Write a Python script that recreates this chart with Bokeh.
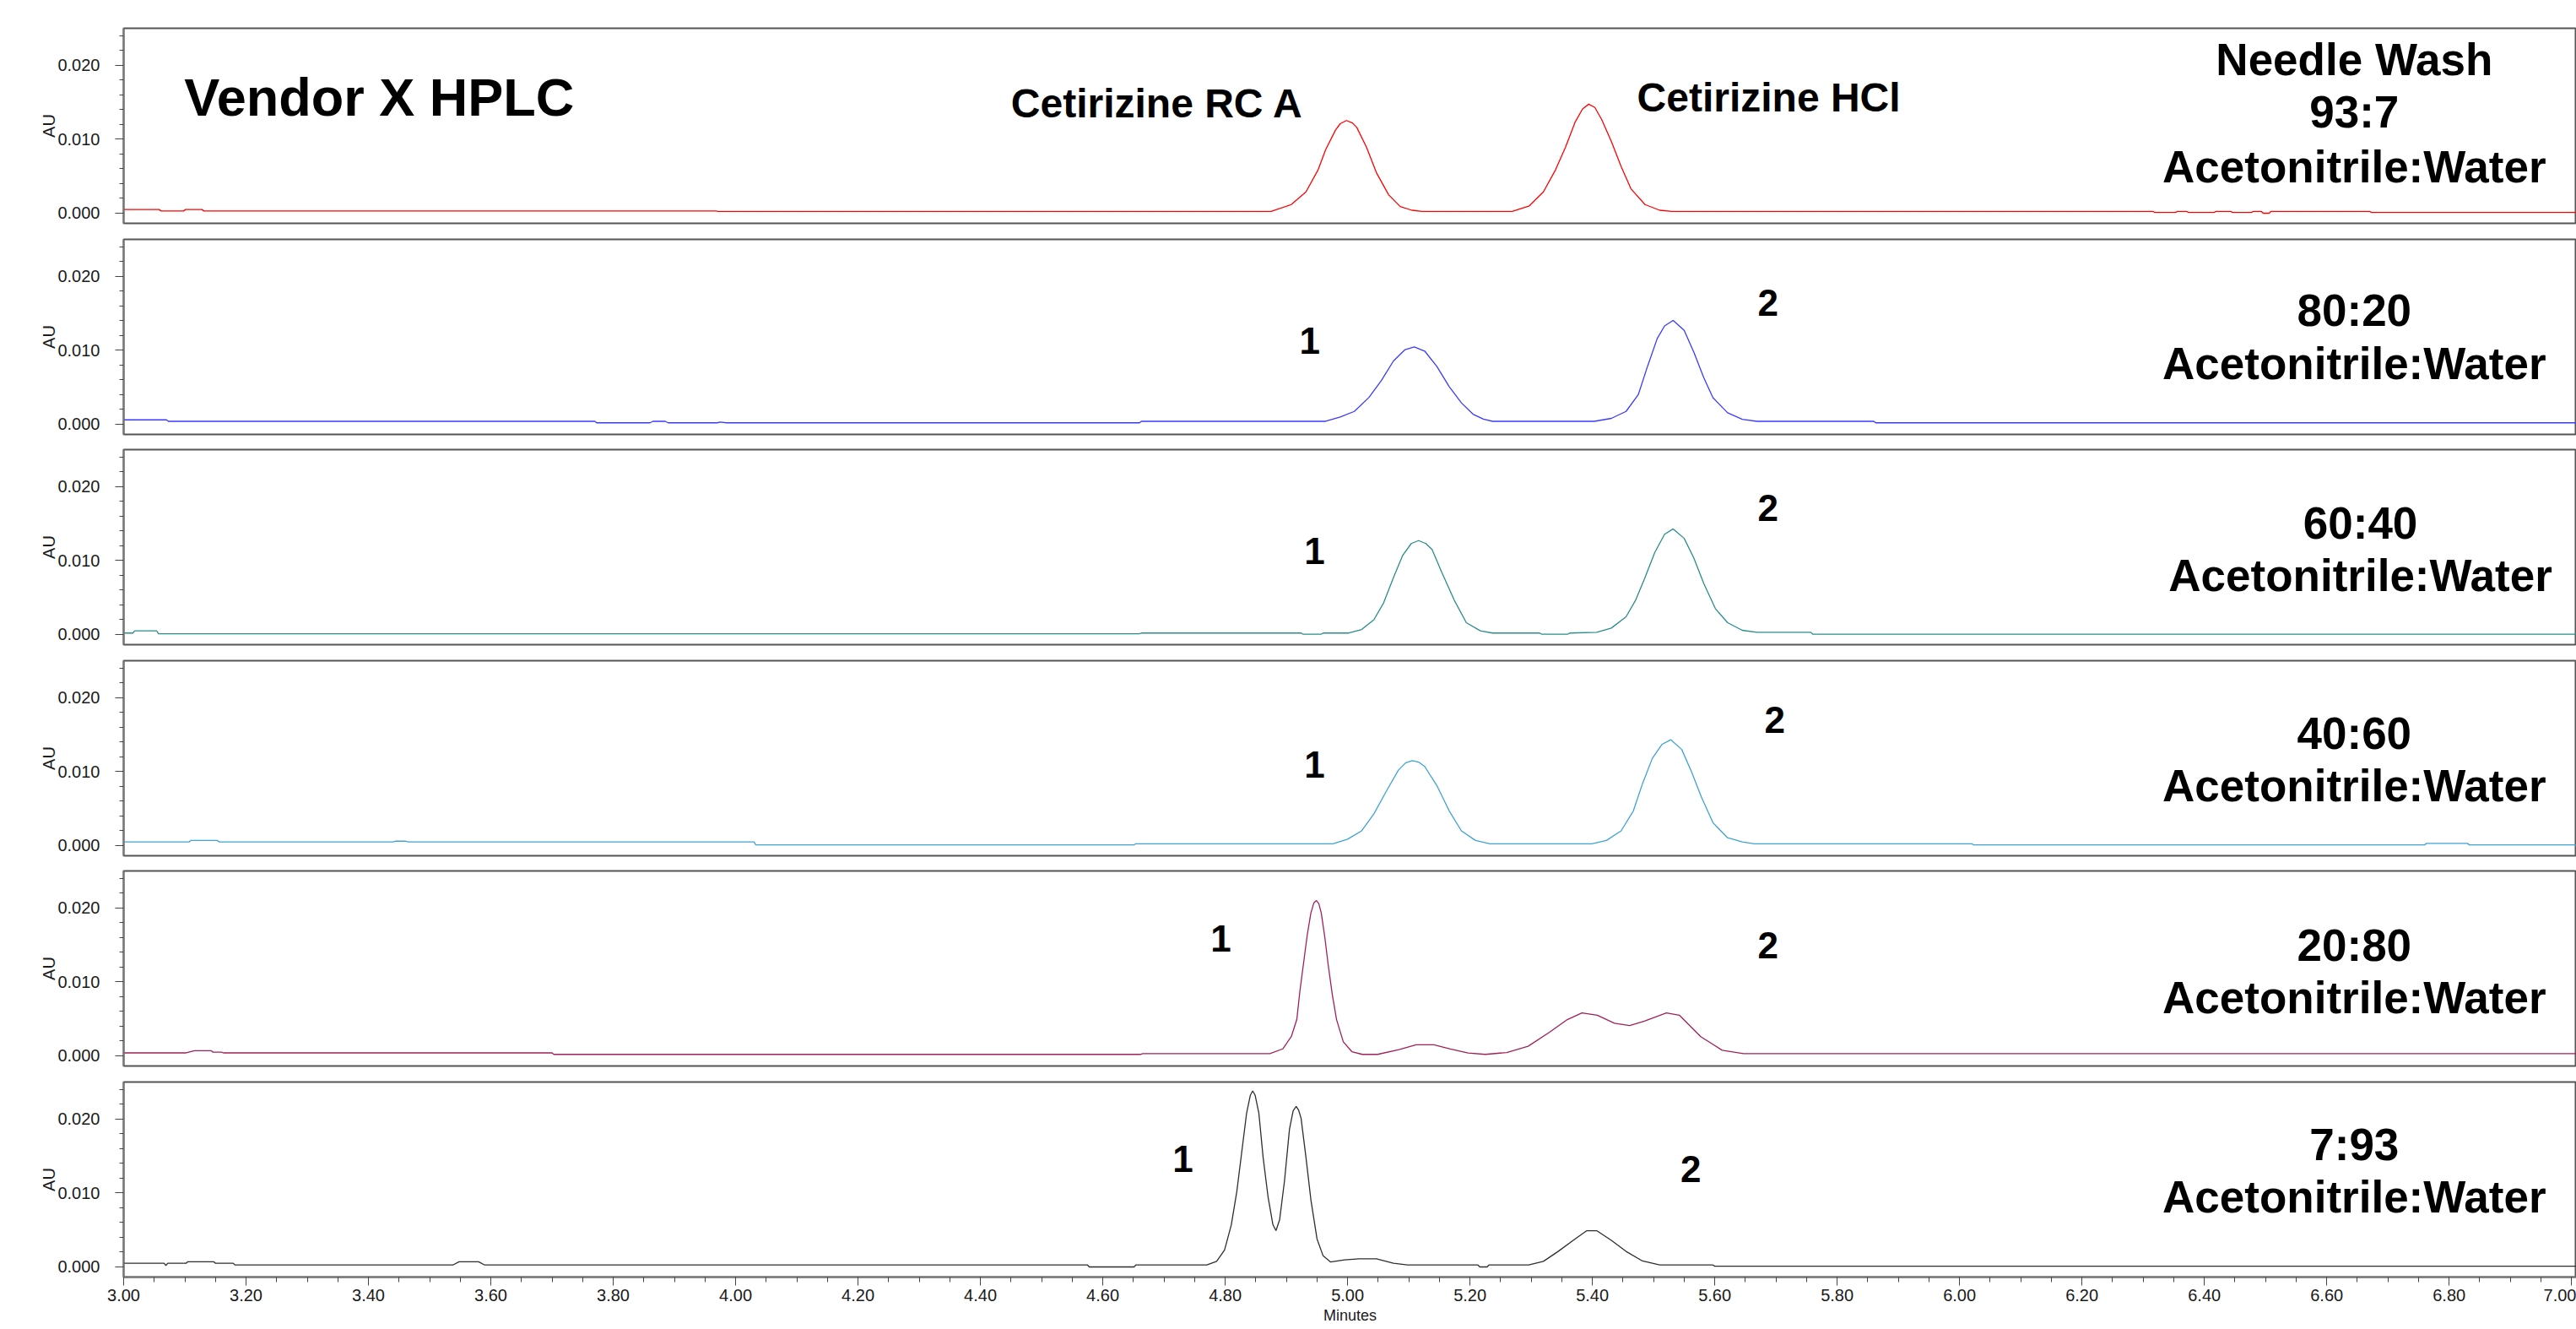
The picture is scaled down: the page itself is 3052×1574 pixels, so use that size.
from bokeh.plotting import figure
from bokeh.layouts import column
from bokeh.models import Range1d, FixedTicker, PrintfTickFormatter, Label
from bokeh.embed import file_html
from bokeh.resources import INLINE

# ---------------- data (time in minutes, AU) ----------------
t_nw = [3.000, 3.058, 3.061, 3.098, 3.101, 3.128, 3.131, 3.968, 3.971, 4.875, 4.908, 4.932, 4.952, 4.964,
        4.980, 4.988, 4.998, 5.008, 5.015, 5.031, 5.047, 5.067, 5.086, 5.105, 5.122, 5.269, 5.297, 5.320,
        5.340, 5.356, 5.372, 5.384, 5.394, 5.404, 5.415, 5.431, 5.447, 5.463, 5.486, 5.510, 5.530, 6.316,
        6.319, 6.353, 6.356, 6.371, 6.374, 6.416, 6.419, 6.443, 6.446, 6.477, 6.480, 6.493, 6.496, 6.506,
        6.509, 6.670, 6.673, 7.008]
au_nw = [0.0005, 0.0005, 0.0003, 0.0003, 0.0005, 0.0005, 0.0003, 0.0003, 0.00025, 0.00025, 0.00117, 0.00288,
         0.0059, 0.00856, 0.0112, 0.0121, 0.01253, 0.0122, 0.0116, 0.0089, 0.0055, 0.0025, 0.0009, 0.0004,
         0.00025, 0.00025, 0.00099, 0.00288, 0.0059, 0.0089, 0.01235, 0.0141, 0.01474, 0.0143, 0.0127, 0.0097,
         0.0063, 0.0033, 0.00117, 0.0004, 0.00025, 0.00025, 0.0001, 0.0001, 0.00025, 0.00025, 0.0001, 0.0001,
         0.00025, 0.00025, 0.0001, 0.0001, 0.00025, 0.00025, 0.0, 0.0, 0.00025, 0.00025, 0.0001, 0.0001]

t_80 = [3.000, 3.070, 3.073, 3.770, 3.773, 3.860, 3.865, 3.885, 3.890, 3.970, 3.975, 3.985, 4.660, 4.663,
        4.964, 4.988, 5.011, 5.035, 5.055, 5.075, 5.094, 5.109, 5.126, 5.146, 5.166, 5.186, 5.205, 5.222,
        5.237, 5.403, 5.431, 5.455, 5.475, 5.490, 5.506, 5.518, 5.532, 5.550, 5.566, 5.582, 5.597, 5.621,
        5.645, 5.669, 5.860, 5.863, 7.008]
au_80 = [0.0006, 0.0006, 0.0004, 0.0004, 0.0002, 0.0002, 0.0004, 0.0004, 0.0002, 0.0002, 0.0003, 0.0002,
         0.0002, 0.0004, 0.0004, 0.00099, 0.00174, 0.00364, 0.0059, 0.00856, 0.0101, 0.01045, 0.0099, 0.0078,
         0.0051, 0.0029, 0.00136, 0.0007, 0.0004, 0.0004, 0.0008, 0.00174, 0.0040, 0.0078, 0.0116, 0.0133,
         0.01405, 0.0127, 0.0097, 0.0063, 0.0036, 0.00156, 0.00068, 0.0004, 0.0004, 0.0002, 0.0002]

t_60 = [3.000, 3.015, 3.018, 3.054, 3.057, 4.660, 4.663, 4.924, 4.927, 4.957, 4.960, 5.002, 5.023, 5.043,
        5.059, 5.075, 5.090, 5.104, 5.116, 5.128, 5.138, 5.154, 5.174, 5.194, 5.217, 5.237, 5.314, 5.317,
        5.360, 5.363, 5.407, 5.431, 5.455, 5.471, 5.486, 5.502, 5.518, 5.532, 5.550, 5.566, 5.582, 5.601,
        5.621, 5.645, 5.669, 5.757, 5.760, 7.008]
au_60 = [0.0002, 0.0002, 0.0005, 0.0005, 0.0001, 0.0001, 0.0002, 0.0002, 0.00005, 0.00005, 0.0002, 0.0002,
         0.00068, 0.0020, 0.0043, 0.0077, 0.0107, 0.0123, 0.0127, 0.0123, 0.0115, 0.0084, 0.0047, 0.0016,
         0.0005, 0.0002, 0.0002, 0.00005, 0.00005, 0.0002, 0.0003, 0.00087, 0.0024, 0.0047, 0.0077, 0.0111,
         0.01356, 0.01428, 0.0130, 0.0103, 0.0069, 0.0035, 0.0016, 0.00057, 0.0003, 0.0003, 0.00005, 0.00005]

t_40 = [3.000, 3.107, 3.110, 3.153, 3.156, 3.440, 3.445, 3.460, 3.465, 4.030, 4.033, 4.651, 4.654, 4.976,
        5.000, 5.023, 5.043, 5.063, 5.083, 5.095, 5.106, 5.116, 5.126, 5.146, 5.166, 5.186, 5.209, 5.233,
        5.399, 5.423, 5.447, 5.467, 5.482, 5.498, 5.514, 5.528, 5.546, 5.562, 5.578, 5.597, 5.621, 5.645,
        5.665, 6.020, 6.023, 6.760, 6.763, 6.830, 6.833, 7.008]
au_40 = [0.0005, 0.0005, 0.0007, 0.0007, 0.0005, 0.0005, 0.0006, 0.0006, 0.0005, 0.0005, 0.0001, 0.0001,
         0.00025, 0.00025, 0.00087, 0.0020, 0.0043, 0.0073, 0.0102, 0.0112, 0.01148, 0.0113, 0.0107, 0.0081,
         0.0047, 0.0020, 0.0007, 0.00025, 0.00025, 0.0007, 0.0020, 0.0047, 0.0084, 0.0118, 0.0137, 0.01432,
         0.0130, 0.0100, 0.0066, 0.0031, 0.00106, 0.0005, 0.00025, 0.00025, 0.0001, 0.0001, 0.0003, 0.0003,
         0.0001, 0.0001]

t_20 = [3.000, 3.102, 3.116, 3.143, 3.146, 3.160, 3.163, 3.700, 3.703, 4.662, 4.665, 4.873, 4.894, 4.908,
        4.917, 4.922, 4.928, 4.934, 4.940, 4.945, 4.949, 4.953, 4.957, 4.963, 4.968, 4.975, 4.982, 4.993,
        5.007, 5.024, 5.049, 5.084, 5.112, 5.141, 5.168, 5.197, 5.225, 5.260, 5.295, 5.330, 5.359, 5.383,
        5.408, 5.436, 5.461, 5.485, 5.521, 5.542, 5.577, 5.612, 5.647, 7.008]
au_20 = [0.0004, 0.0004, 0.0007, 0.0007, 0.0005, 0.0005, 0.0004, 0.0004, 0.0002, 0.0002, 0.0003, 0.0003,
         0.00094, 0.0026, 0.0049, 0.0087, 0.0125, 0.0163, 0.0193, 0.0207, 0.0210, 0.0206, 0.0193, 0.0159,
         0.0125, 0.0083, 0.0049, 0.0019, 0.00057, 0.0002, 0.0002, 0.00083, 0.0015, 0.0015, 0.00094, 0.00038,
         0.0002, 0.00045, 0.0013, 0.0032, 0.0049, 0.0058, 0.0055, 0.0044, 0.0041, 0.0047, 0.0058, 0.0055,
         0.0026, 0.00076, 0.0003, 0.0003]

t_7 = [3.000, 3.066, 3.069, 3.072, 3.102, 3.105, 3.147, 3.150, 3.179, 3.182, 3.538, 3.548, 3.580, 3.590,
       4.575, 4.578, 4.651, 4.654, 4.770, 4.786, 4.799, 4.810, 4.819, 4.827, 4.835, 4.841, 4.845, 4.849,
       4.855, 4.862, 4.870, 4.878, 4.883, 4.889, 4.897, 4.905, 4.911, 4.916, 4.920, 4.924, 4.932, 4.940,
       4.950, 4.960, 4.972, 4.995, 5.019, 5.047, 5.075, 5.098, 5.213, 5.216, 5.228, 5.231, 5.296, 5.320,
       5.344, 5.372, 5.391, 5.407, 5.431, 5.455, 5.482, 5.510, 5.597, 5.600, 7.008]
au_7 = [0.0005, 0.0005, 0.0002, 0.0005, 0.0005, 0.0007, 0.0007, 0.0005, 0.0005, 0.00026, 0.00026, 0.0007,
        0.0007, 0.00026, 0.00026, 0.0, 0.0, 0.00026, 0.00026, 0.00076, 0.0023, 0.0057, 0.0102, 0.0155,
        0.0208, 0.0232, 0.0238, 0.0232, 0.0208, 0.0148, 0.0095, 0.0057, 0.0049, 0.0064, 0.0117, 0.0186,
        0.0211, 0.0217, 0.0212, 0.0201, 0.0148, 0.0091, 0.0038, 0.0015, 0.00068, 0.00095, 0.0011, 0.0011,
        0.0005, 0.00026, 0.00026, 0.0, 0.0, 0.00026, 0.00026, 0.00076, 0.0021, 0.0038, 0.0049, 0.0049,
        0.0036, 0.0021, 0.0008, 0.00026, 0.00026, 0.0001, 0.0001]

series_t = [t_nw, t_80, t_60, t_40, t_20, t_7]
series_au = [au_nw, au_80, au_60, au_40, au_20, au_7]
colors = ["#ff0000", "#3a3aff", "#2a8c8c", "#3fa2d4", "#a0205a", "#2e2e2e"]

ratio_lines = [["Needle Wash", "93:7", "Acetonitrile:Water"],
               ["80:20", "Acetonitrile:Water"],
               ["60:40", "Acetonitrile:Water"],
               ["40:60", "Acetonitrile:Water"],
               ["20:80", "Acetonitrile:Water"],
               ["7:93", "Acetonitrile:Water"]]

y_major = [0.0, 0.01, 0.02]
y_minor = [0.002, 0.004, 0.006, 0.008, 0.012, 0.014, 0.016, 0.018, 0.022, 0.024]
x_major = [3.0, 3.2, 3.4, 3.6, 3.8, 4.0, 4.2, 4.4, 4.6, 4.8, 5.0, 5.2, 5.4, 5.6, 5.8, 6.0, 6.2, 6.4,
           6.6, 6.8, 7.0]
x_minor = [3.0 + 0.05 * k for k in range(81)]

# ---------------- annotation placement (time, AU) ----------------
ratio_pos = [[(6.645, 0.02078), (6.645, 0.01370), (6.645, 0.00628)],
             [(6.645, 0.01541), (6.645, 0.00823)],
             [(6.655, 0.01507), (6.655, 0.00800)],
             [(6.645, 0.01519), (6.645, 0.00811)],
             [(6.645, 0.01496), (6.645, 0.00788)],
             [(6.645, 0.01656), (6.645, 0.00948)]]
num_pos = [None,
           [(4.938, 0.01131), (5.687, 0.01644)],
           [(4.946, 0.01131), (5.687, 0.01713)],
           [(4.946, 0.01096), (5.698, 0.01701)],
           [(4.793, 0.01587), (5.687, 0.01496)],
           [(4.731, 0.01462), (5.561, 0.01325)]]

FONT = "Liberation Sans"
tops = [33, 10, 9, 10, 9, 10]
figs = []
for i in range(6):
    last = i == 5
    bottom = 62 if last else 9
    p = figure(width=3052, height=231 + tops[i] + bottom,
               x_range=Range1d(3.0, 7.008), y_range=Range1d(-0.00137, 0.0250),
               output_backend="svg", toolbar_location=None, tools="", title=None,
               x_axis_location="below" if last else None,
               min_border_left=146, min_border_right=0,
               min_border_top=tops[i], min_border_bottom=bottom)
    p.grid.visible = False
    p.outline_line_color = "#555555"
    p.outline_line_width = 2
    p.background_fill_color = "white"
    p.border_fill_color = "white"

    ya = p.yaxis[0]
    ya.ticker = FixedTicker(ticks=y_major, minor_ticks=y_minor)
    ya.formatter = PrintfTickFormatter(format="%.3f")
    ya.axis_line_color = "#777777"
    ya.axis_line_width = 2
    ya.major_tick_line_color = "#444444"
    ya.minor_tick_line_color = "#444444"
    ya.major_tick_out = 10
    ya.major_tick_in = 0
    ya.minor_tick_out = 5
    ya.minor_tick_in = 0
    ya.major_label_standoff = 18
    ya.major_label_text_font = FONT
    ya.major_label_text_font_size = "20px"
    ya.major_label_text_color = "#1a1a1a"
    ya.axis_label = "AU"
    ya.axis_label_text_font = FONT
    ya.axis_label_text_font_size = "20px"
    ya.axis_label_text_font_style = "normal"
    ya.axis_label_text_color = "#1a1a1a"
    ya.axis_label_standoff = -4

    if last:
        xa = p.xaxis[0]
        xa.ticker = FixedTicker(ticks=x_major, minor_ticks=x_minor)
        xa.formatter = PrintfTickFormatter(format="%.2f")
        xa.axis_line_color = "#777777"
        xa.axis_line_width = 2
        xa.major_tick_line_color = "#444444"
        xa.minor_tick_line_color = "#444444"
        xa.major_tick_out = 10
        xa.major_tick_in = 0
        xa.minor_tick_out = 6
        xa.minor_tick_in = 0
        xa.major_label_standoff = 4
        xa.major_label_text_font = FONT
        xa.major_label_text_font_size = "20px"
        xa.major_label_text_color = "#1a1a1a"
        xa.axis_label = "Minutes"
        xa.axis_label_text_font = FONT
        xa.axis_label_text_font_size = "18px"
        xa.axis_label_text_font_style = "normal"
        xa.axis_label_text_color = "#1a1a1a"
        xa.axis_label_standoff = 4

    p.line(series_t[i], series_au[i], line_color=colors[i], line_width=1.3)

    for text, (tx, ty) in zip(ratio_lines[i], ratio_pos[i]):
        p.add_layout(Label(x=tx, y=ty, text=text, text_font=FONT, text_font_style="bold",
                           text_font_size="53px", text_align="center", text_baseline="middle",
                           text_color="black"))
    if num_pos[i] is not None:
        for text, (tx, ty) in zip(["1", "2"], num_pos[i]):
            p.add_layout(Label(x=tx, y=ty, text=text, text_font=FONT, text_font_style="bold",
                               text_font_size="44px", text_align="center", text_baseline="middle",
                               text_color="black"))
    if i == 0:
        p.add_layout(Label(x=3.099, y=0.01564, text="Vendor X HPLC", text_font=FONT,
                           text_font_style="bold", text_font_size="63px", text_align="left",
                           text_baseline="middle", text_color="black"))
        p.add_layout(Label(x=4.450, y=0.01484, text="Cetirizine RC A", text_font=FONT,
                           text_font_style="bold", text_font_size="48px", text_align="left",
                           text_baseline="middle", text_color="black"))
        p.add_layout(Label(x=5.473, y=0.01564, text="Cetirizine HCl", text_font=FONT,
                           text_font_style="bold", text_font_size="48px", text_align="left",
                           text_baseline="middle", text_color="black"))
    figs.append(p)

layout = column(*figs, spacing=0)
open("out.html", "w").write(file_html(layout, INLINE))
